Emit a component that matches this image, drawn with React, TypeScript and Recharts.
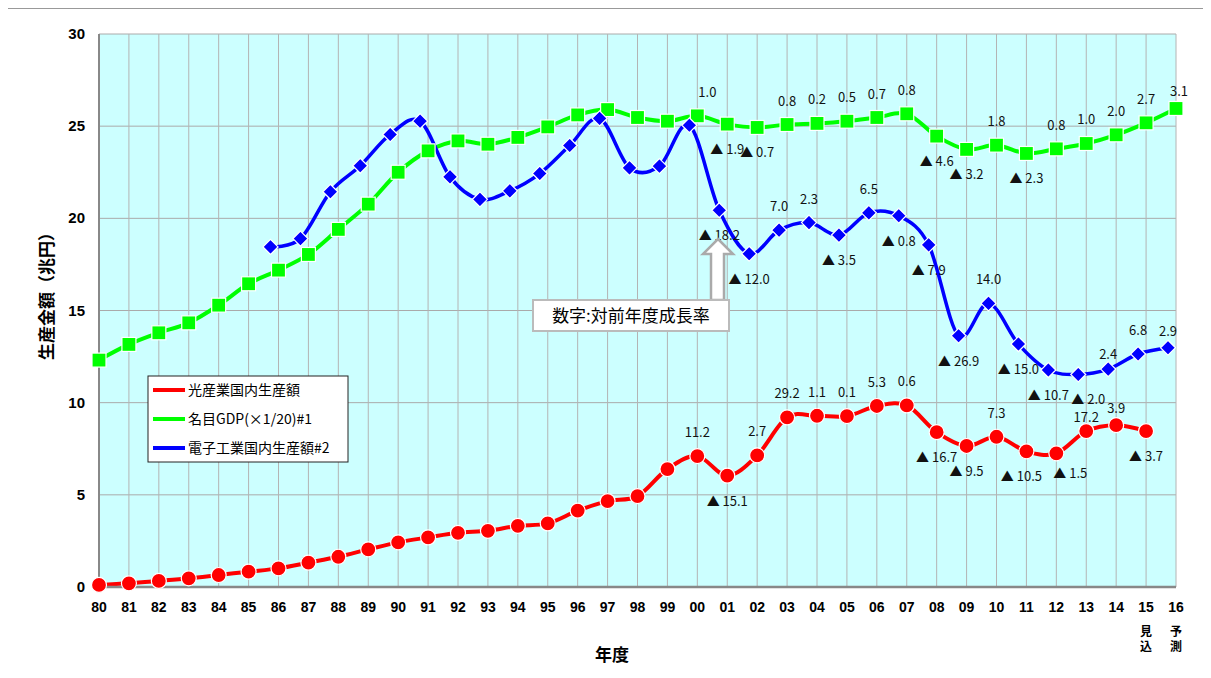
import React from 'react';
import { LineChart, Line, XAxis, YAxis, CartesianGrid, ReferenceLine } from 'recharts';

const years = ['80','81','82','83','84','85','86','87','88','89','90','91','92','93','94','95','96','97','98','99','00','01','02','03','04','05','06','07','08','09','10','11','12','13','14','15','16'];
const yearNotes: Record<string, string> = { '15': '見込', '16': '予測' };

const seriesNames = ['光産業国内生産額', '名目GDP(×1/20)#1', '電子工業国内生産額#2'];
const seriesColors = ['#FF0000', '#00FF00', '#0000FF'];

const opticalValues: (number | null)[] = [0.11, 0.2, 0.33, 0.47, 0.65, 0.83, 1.01, 1.32, 1.64, 2.04, 2.42, 2.69, 2.94, 3.05, 3.32, 3.45, 4.14, 4.66, 4.93, 6.4, 7.1, 6.04, 7.14, 9.2, 9.29, 9.27, 9.82, 9.85, 8.4, 7.65, 8.15, 7.36, 7.25, 8.46, 8.78, 8.46, null];
const gdpValues: (number | null)[] = [12.31, 13.16, 13.79, 14.33, 15.29, 16.45, 17.19, 18.04, 19.4, 20.77, 22.5, 23.66, 24.2, 24.02, 24.39, 24.96, 25.61, 25.9, 25.47, 25.27, 25.56, 25.11, 24.93, 25.09, 25.15, 25.27, 25.47, 25.67, 24.46, 23.74, 23.97, 23.52, 23.77, 24.06, 24.53, 25.18, 25.96];
const electronicsValues: (number | null)[] = [null, null, null, null, null, null, 18.45, 18.9, 21.44, 22.85, 24.55, 25.27, 22.25, 21.03, 21.49, 22.43, 23.95, 25.42, 22.74, 22.83, 25.05, 20.44, 18.08, 19.36, 19.77, 19.09, 20.3, 20.14, 18.56, 13.63, 15.39, 13.18, 11.77, 11.53, 11.82, 12.64, 12.98];

const N20 = [null, null, null, null, null, null, null, null, null, null, null, null, null, null, null, null, null, null, null, null];
const opticalGrowth: (number | null)[] = [...N20, 11.2, -15.1, 2.7, 29.2, 1.1, 0.1, 5.3, 0.6, -16.7, -9.5, 7.3, -10.5, -1.5, 17.2, 3.9, -3.7, null];
const gdpGrowth: (number | null)[] = [...N20, 1.0, -1.9, -0.7, 0.8, 0.2, 0.5, 0.7, 0.8, -4.6, -3.2, 1.8, -2.3, 0.8, 1.0, 2.0, 2.7, 3.1];
const electronicsGrowth: (number | null)[] = [...N20, null, -18.2, -12.0, 7.0, 2.3, -3.5, 6.5, -0.8, -7.9, -26.9, 14.0, -15.0, -10.7, -2.0, 2.4, 6.8, 2.9];

const yTicks = [0, 5, 10, 15, 20, 25, 30];

const data = years.map((year, i) => ({
  year,
  idx: i,
  optical: opticalValues[i],
  gdp: gdpValues[i],
  electronics: electronicsValues[i],
}));

// label placement nudges (style only): [dx, dy]
const labelNudges: Record<string, [number, number]> = {
  'optical-11': [-5, 0],
  'optical-12': [14, -5],
  'optical-13': [0, 10],
  'optical-14': [0, 7],
  'gdp-00': [10, 0],
  'gdp-16': [3, 7],
  'electronics-13': [10, 0],
  'electronics-14': [0, 9],
  'electronics-16': [0, 7],
};

// Excel-like smoothed line (Catmull-Rom / cardinal with tension 0)
function excelSmooth(context: any) {
  let x0 = NaN, x1 = NaN, x2 = NaN, y0 = NaN, y1 = NaN, y2 = NaN, pt = 0, line: number = NaN;
  const k = 1 / 6;
  const bez = (x: number, y: number) =>
    context.bezierCurveTo(x1 + k * (x2 - x0), y1 + k * (y2 - y0), x2 + k * (x1 - x), y2 + k * (y1 - y), x2, y2);
  return {
    areaStart() { line = 0; },
    areaEnd() { line = NaN; },
    lineStart() { x0 = x1 = x2 = y0 = y1 = y2 = NaN; pt = 0; },
    lineEnd() {
      if (pt === 2) context.lineTo(x2, y2);
      else if (pt === 3) bez(x1, y1);
      if (line || (line !== 0 && pt === 1)) context.closePath();
      line = 1 - line;
    },
    point(x: number, y: number) {
      x = +x; y = +y;
      if (pt === 0) { pt = 1; if (line) context.lineTo(x, y); else context.moveTo(x, y); }
      else if (pt === 1) { pt = 2; x1 = x; y1 = y; }
      else { pt = 3; bez(x, y); }
      x0 = x1; x1 = x2; x2 = x;
      y0 = y1; y1 = y2; y2 = y;
    },
  };
}

const labelFont = "'Noto Sans CJK JP', 'Liberation Sans', sans-serif";

const makeLabel = (series: string, growth: (number | null)[]) => (props: any) => {
  const { x, y, index } = props;
  const g = growth[index];
  if (g === null || g === undefined || x == null || y == null) return <g key={`l-${index}`} />;
  const neg = g < 0;
  const txt = neg ? `▲ ${Math.abs(g).toFixed(1)}` : g.toFixed(1);
  const [dx, dy] = labelNudges[`${series}-${years[index]}`] || [0, 0];
  return (
    <text key={`l-${index}`} x={x + dx} y={(neg ? y + 30 : y - 19) + dy} textAnchor="middle" fontSize={13} fill="#111" fontFamily={labelFont}>
      {txt}
    </text>
  );
};

const circleDot = (props: any) => {
  const { cx, cy, index } = props;
  if (cx == null || cy == null || props.value == null) return <g key={`c-${index}`} />;
  return <circle key={`c-${index}`} cx={cx} cy={cy} r={7.5} fill="#FF0000" stroke="#fff" strokeWidth={1.2} />;
};
const squareDot = (props: any) => {
  const { cx, cy, index } = props;
  if (cx == null || cy == null || props.value == null) return <g key={`s-${index}`} />;
  return <rect key={`s-${index}`} x={cx - 7} y={cy - 7} width={14} height={14} fill="#00FF00" stroke="#fff" strokeWidth={1.2} />;
};
const diamondDot = (props: any) => {
  const { cx, cy, index } = props;
  if (cx == null || cy == null || props.value == null) return <g key={`d-${index}`} />;
  const s = 7.5;
  return <path key={`d-${index}`} d={`M${cx},${cy - s}L${cx + s},${cy}L${cx},${cy + s}L${cx - s},${cy}Z`} fill="#0000FF" stroke="#fff" strokeWidth={1.2} />;
};

const XTick = (props: any) => {
  const { x, y, payload } = props;
  const v = payload.value as string;
  const note = yearNotes[v];
  return (
    <g>
      <text x={x} y={y + 25} textAnchor="middle" fontSize={14} fontWeight="bold" fill="#000" fontFamily="'Liberation Sans', Arial, sans-serif">{v}</text>
      {note && note.split('').map((ch, i) => (
        <text key={i} x={x} y={y + 49 + i * 15} textAnchor="middle" fontSize={12} fontWeight="bold" fill="#000" fontFamily="'Noto Sans CJK JP', sans-serif">{ch}</text>
      ))}
    </g>
  );
};

const YTick = (props: any) => {
  const { x, y, payload } = props;
  return (
    <text x={x - 6} y={y + 5} textAnchor="end" fontSize={15} fontWeight="bold" fill="#000" fontFamily="'Liberation Sans', Arial, sans-serif">{payload.value}</text>
  );
};

export default function App() {
  const ox = 8, oy = 8;
  return (
    <div style={{ position: 'relative', width: 1195, height: 662 }}>
      <div style={{ position: 'absolute', left: 6 - ox, top: 8 - oy, width: 1220, height: 667, borderLeft: '1px solid #999', borderTop: '1px solid #999', boxSizing: 'border-box' }} />
      <div style={{ position: 'absolute', left: 0, top: 0 }}>
        <LineChart width={1195} height={662} data={data} margin={{ top: 26, right: 27, bottom: 43, left: 31 }}>
          <CartesianGrid stroke="#aaa" strokeWidth={1} fill="#CCFFFF" fillOpacity={1} vertical={false} />
          {years.map((y) => (
            <ReferenceLine key={`v-${y}`} x={y} stroke="#b4b4b4" strokeWidth={1} ifOverflow="visible" />
          ))}
          <XAxis dataKey="year" interval={0} tickLine={false} tickSize={0} tickMargin={0} height={40} tick={<XTick />} axisLine={{ stroke: '#888', strokeWidth: 2.5 }} />
          <XAxis xAxisId="b" type="number" dataKey="idx" domain={[0.267, 36.267]} allowDataOverflow hide />
          <YAxis width={60} domain={[0, 30]} ticks={yTicks} interval={0} tickLine={false} tick={<YTick />} axisLine={{ stroke: '#888', strokeWidth: 2 }} />
          <Line dataKey="optical" name={seriesNames[0]} stroke={seriesColors[0]} strokeWidth={4} type={excelSmooth as any} dot={circleDot} activeDot={false} label={makeLabel('optical', opticalGrowth)} isAnimationActive={false} />
          <Line dataKey="gdp" name={seriesNames[1]} stroke={seriesColors[1]} strokeWidth={4} type={excelSmooth as any} dot={squareDot} activeDot={false} label={makeLabel('gdp', gdpGrowth)} isAnimationActive={false} />
          <Line xAxisId="b" dataKey="electronics" name={seriesNames[2]} stroke={seriesColors[2]} strokeWidth={3.5} type={excelSmooth as any} dot={diamondDot} activeDot={false} label={makeLabel('electronics', electronicsGrowth)} isAnimationActive={false} />
        </LineChart>
      </div>
      <svg width={1195} height={662} style={{ position: 'absolute', left: 0, top: 0, pointerEvents: 'none' }}>
        <text x={45 - ox} y={292 - oy} transform={`rotate(-90, ${45 - ox}, ${292 - oy})`} textAnchor="middle" dominantBaseline="central" fontSize={17} fontWeight="bold" fontFamily="'Noto Sans CJK JP', sans-serif" fill="#000">生産金額（兆円）</text>
        <text x={612 - ox} y={661 - oy} textAnchor="middle" fontSize={17} fontWeight="bold" fontFamily="'Noto Sans CJK JP', sans-serif" fill="#000">年度</text>
        <path d={`M${718 - ox},${239 - oy} L${733 - ox},${254 - oy} L${724 - ox},${254 - oy} L${724 - ox},${300 - oy} L${711 - ox},${300 - oy} L${711 - ox},${254 - oy} L${703 - ox},${254 - oy} Z`} fill="#fff" stroke="#aaa" strokeWidth={2.5} strokeLinejoin="miter" />
        <rect x={533 - ox} y={300 - oy} width={196} height={31} fill="#fff" stroke="#bbb" strokeWidth={2} />
        <text x={631 - ox} y={322 - oy} textAnchor="middle" fontSize={17} fontFamily="'Noto Sans CJK JP', sans-serif" fill="#000">数字:対前年度成長率</text>
        <rect x={148 - ox} y={376 - oy} width={200} height={86} fill="#fff" stroke="#222" strokeWidth={1} />
        {seriesNames.map((n, i) => (
          <g key={n}>
            <line x1={153 - ox} x2={185 - ox} y1={390 + i * 29 - oy} y2={390 + i * 29 - oy} stroke={seriesColors[i]} strokeWidth={4} />
            <text x={188 - ox} y={395 + i * 29 - oy} fontSize={14} fontFamily="'Noto Sans CJK JP', sans-serif" fill="#000">{n}</text>
          </g>
        ))}
      </svg>
    </div>
  );
}
